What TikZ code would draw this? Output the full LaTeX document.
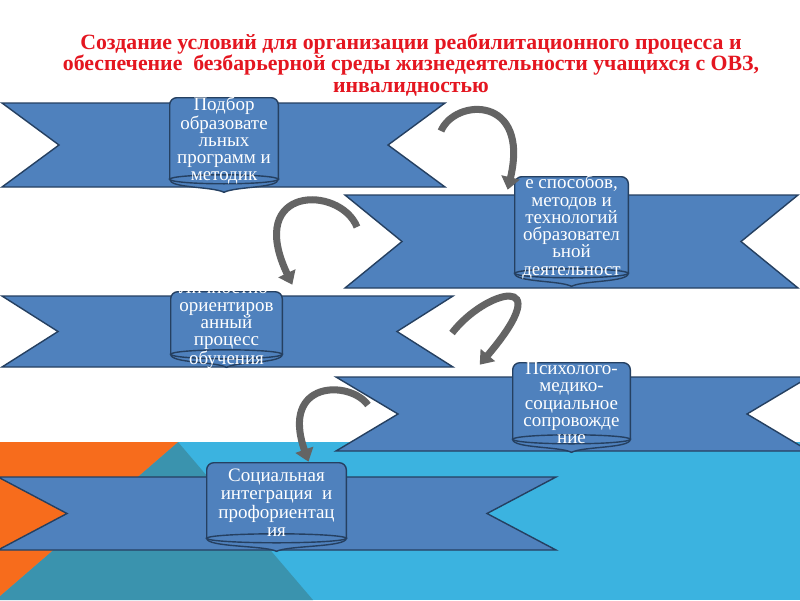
\documentclass[tikz,border=0pt]{standalone}
\usepackage{fontspec}
\setmainfont{Liberation Serif}
\usetikzlibrary{calc, arrows.meta}
\definecolor{Rojo}{RGB}{228,22,32}
\definecolor{Cinta}{RGB}{79,129,189}
\definecolor{CintaBorde}{RGB}{37,64,97}
\definecolor{Naranja}{RGB}{247,108,28}
\definecolor{Petroleo}{RGB}{58,147,174}
\definecolor{Celeste}{RGB}{59,179,224}
\definecolor{Flecha}{RGB}{100,100,100}
\pgfdeclarelayer{fondo}
\pgfdeclarelayer{medio}
\pgfsetlayers{fondo,medio,main}

\begin{document}
\begin{tikzpicture}[
  x=0.025cm, y=-0.025cm,
  every node/.style={font=\fontsize{13.5}{12.3}\selectfont},
  cinta/.style={fill=Cinta, draw=CintaBorde, line width=1pt},
  rollo/.style={rectangle, inner sep=0pt},
  rollofondo/.style={fill=Cinta, draw=CintaBorde, line width=1pt},
  texto/.style={text=white, align=center, inner sep=0pt},
  flecha/.style={-{Triangle[width=13pt, length=9pt]}, line width=5pt, color=Flecha},
  titulo/.style={font=\fontsize{15.5}{15.1}\selectfont\bfseries, text=Rojo, align=center}
]
  \useasboundingbox (0,0) rectangle (800,600);
  \clip (0,0) rectangle (800,600);

  % --- Fondo ---
  \begin{pgfonlayer}{fondo}
    \fill[white] (0,0) rectangle (800,600);
    \fill[Celeste] (0,442) rectangle (800,600);
    \fill[Petroleo] (178,442) -- (313,600) -- (0,600) -- (0,596) -- cycle;
    \fill[Naranja] (0,442) -- (178,442) -- (0,596) -- cycle;

    % --- Cintas ---
    \foreach \xa/\xb/\ya/\yb/\d in {2/445/103/187/57, 345/798/195/288/57,
        2/453/296/367/56, 336/809/377/451/62, -2/556/477/550/69}
      \draw[cinta] (\xa,\ya) -- (\xb,\ya) -- (\xb-\d,{(\ya+\yb)/2}) -- (\xb,\yb)
        -- (\xa,\yb) -- (\xa+\d,{(\ya+\yb)/2}) -- cycle;
  \end{pgfonlayer}

  % --- Titulo ---
  \node[titulo] (titulo) at (411,65)
    {Создание условий для организации реабилитационного процесса и\\
     обеспечение\ \ безбарьерной среды жизнедеятельности учащихся с ОВЗ,\\
     инвалидностью};

  % --- Rollos con texto ---
  \node[rollo, minimum width=2.7cm, minimum height=2.125cm,
    label={[texto]center:{Подбор\\образовате\\льных\\программ и\\методик}}]
    (podbor) at (224,140.5) {};
  \node[rollo, minimum width=2.825cm, minimum height=2.5cm,
    label={[texto]center:{е способов,\\методов и\\технологий\\образовател\\ьной\\деятельност}}]
    (sposoby) at (571.5,227) {};
  \node[rollo, minimum width=2.775cm, minimum height=1.65cm,
    label={[texto]center:{Личностно-\\ориентиров\\анный\\процесс\\обучения}}]
    (lichnost) at (226.5,325) {};
  \node[rollo, minimum width=2.925cm, minimum height=2.0cm,
    label={[texto]center:{Психолого-\\медико-\\социальное\\сопровожде\\ние}}]
    (psiholog) at (571.5,403) {};
  \node[rollo, minimum width=3.475cm, minimum height=1.975cm,
    label={[texto, font=\fontsize{13.5}{13.1}\selectfont]center:{Социальная\\интеграция\ \ и\\профориентац\\ия}}]
    (integr) at (276.5,502.5) {};

  \begin{pgfonlayer}{medio}
    \foreach \r in {podbor, sposoby, lichnost, psiholog, integr} {
      \draw[rollofondo] ($(\r.south west)+(0,-4)$)
        .. controls ($(\r.south west)+(0,5)$) and ($(\r.south)+(-12,3)$) .. ($(\r.south)+(0,9)$)
        .. controls ($(\r.south)+(12,3)$) and ($(\r.south east)+(0,5)$) .. ($(\r.south east)+(0,-4)$)
        -- cycle;
      \draw[rollofondo, rounded corners=5pt] ($(\r.south west)+(0,-4)$) -- (\r.north west)
        -- (\r.north east) -- ($(\r.south east)+(0,-4)$);
      \draw[rollofondo] let \p1=(\r.south west), \p2=(\r.south east) in
        ($(\r.south)+(0,-4)$) ellipse [x radius={(\x2-\x1)/2}, y radius=3.2pt];
    }
  \end{pgfonlayer}

  % --- Flechas ---
  \coordinate (c1) at (441,131);
  \coordinate (c2) at (357,227);
  \coordinate (c3) at (452,333);
  \coordinate (c4) at (368,405);
  \draw[flecha] (c1) .. controls (455,98) and (530,95) .. ([shift={(-7,13)}]sposoby.north west);
  \draw[flecha] (c2) .. controls (340,185) and (245,185) .. ([shift={(10,-7)}]lichnost.north east);
  \draw[flecha] (c3) .. controls (485,290) and (560,270) .. ([shift={(-33,2)}]psiholog.north west);
  \draw[flecha] (c4) .. controls (350,380) and (280,380) .. ([shift={(32,-1)}]integr.north);
\end{tikzpicture}
\end{document}
